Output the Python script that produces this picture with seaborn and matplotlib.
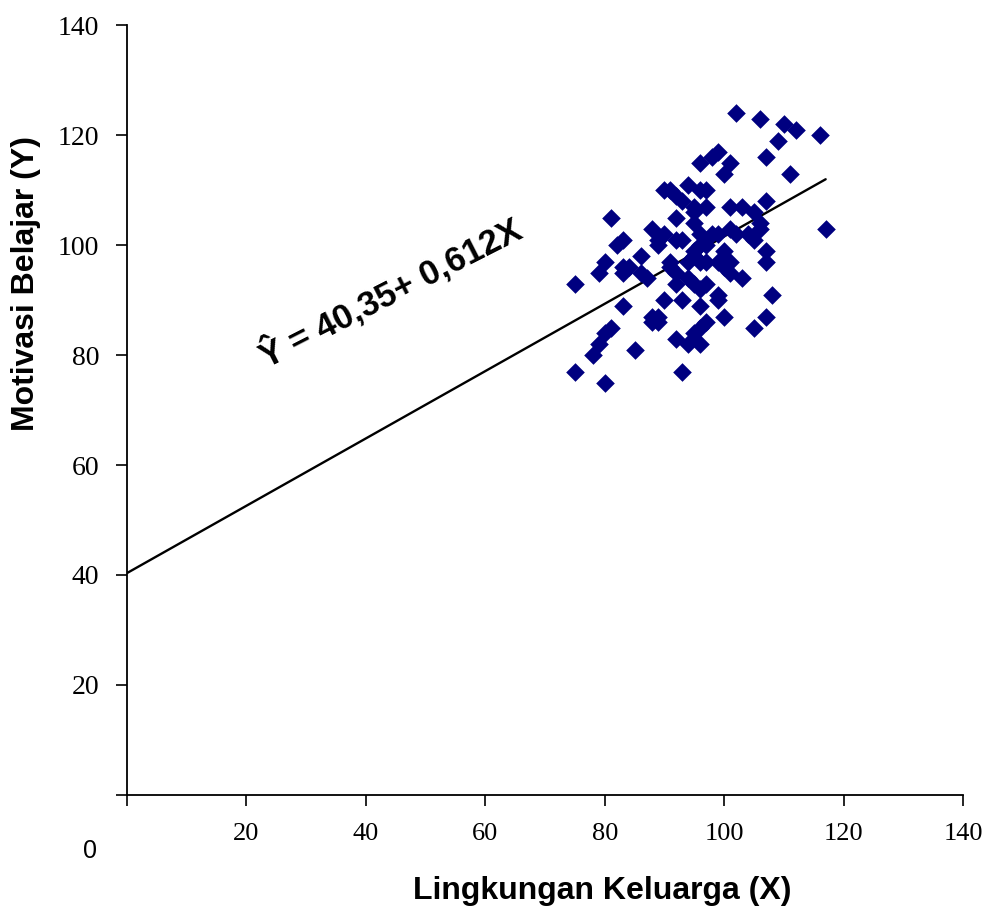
import matplotlib
matplotlib.use("Agg")
import matplotlib.pyplot as plt
import numpy as np
import pandas as pd
import seaborn as sns

# ---- data ----
x_vals = [75, 75, 78, 79, 79, 80, 80, 80, 81, 81, 82, 83, 83, 83, 83, 84, 85, 86, 86, 87,
          88, 89, 89, 88, 89, 89, 88, 90, 91, 92, 93, 90, 90, 92, 92, 93, 92, 93, 93, 94,
          95, 95, 97, 96, 96, 97, 98, 99, 100, 101, 102, 96, 98, 96, 97, 95, 95, 100, 91, 94,
          97, 99, 92, 94, 95, 96, 97, 99, 99, 96, 100, 97, 96, 95, 94, 96, 101, 103, 105, 106,
          106, 101, 102, 104, 105, 101, 101, 103, 100, 105, 106, 107, 107, 107, 107, 107, 108, 109, 110, 112,
          111, 116, 117, 95, 91, 92, 96, 99]
y_vals = [93, 77, 80, 82, 95, 97, 75, 84, 85, 105, 100, 101, 89, 95, 96, 96, 81, 98, 95, 94,
          103, 101, 100, 87, 86, 87, 86, 110, 110, 109, 108, 102, 90, 105, 101, 101, 83, 77, 90, 111,
          106, 107, 107, 115, 110, 110, 116, 117, 113, 115, 124, 102, 102, 100, 100, 99, 98, 99, 97, 97,
          97, 97, 93, 94, 93, 92, 93, 91, 90, 89, 87, 86, 85, 84, 82, 82, 107, 107, 106, 104,
          103, 103, 102, 102, 101, 97, 95, 94, 96, 85, 123, 116, 108, 99, 97, 87, 91, 119, 122, 121,
          113, 120, 103, 104, 96, 95, 97, 102]

intercept = 40.35
slope = 0.612
line_x = [0, 117]

x_ticks = [0, 20, 40, 60, 80, 100, 120, 140]
y_ticks = [0, 20, 40, 60, 80, 100, 120, 140]
x_ticklabels = ["", "20", "40", "60", "80", "100", "120", "140"]
y_ticklabels = ["", "20", "40", "60", "80", "100", "120", "140"]

x_label = "Lingkungan Keluarga (X)"
y_label = "Motivasi Belajar (Y)"
equation = "\u0176 = 40,35+ 0,612X"

# ---- fonts ----
sans = "Liberation Sans"
serif = "Liberation Serif"

sns.set_theme(style="white")
plt.rcParams["font.family"] = ["Liberation Sans", "DejaVu Sans"]

df = pd.DataFrame({"x": x_vals, "y": y_vals})
line_df = pd.DataFrame({"x": line_x, "y": [intercept + slope * v for v in line_x]})

fig = plt.figure(figsize=(9.93, 9.17), dpi=100)
ax = fig.add_axes([127 / 993, 1 - 795 / 917, (963 - 127) / 993, (795 - 25) / 917])

sns.lineplot(data=line_df, x="x", y="y", ax=ax, color="black", linewidth=1.7)
sns.scatterplot(data=df, x="x", y="y", ax=ax, marker="D", color="#000080",
                s=90, linewidth=0, alpha=1.0, zorder=3)

ax.set_xlim(0, 140)
ax.set_ylim(0, 140)
ax.set_xticks(x_ticks)
ax.set_yticks(y_ticks)
ax.set_xticklabels(x_ticklabels, fontfamily=serif, fontsize=19, color="black")
ax.set_yticklabels(y_ticklabels, fontfamily=serif, fontsize=20, color="black")
ax.tick_params(axis="both", direction="out", length=8, width=1.2, color="black",
               bottom=True, left=True)
ax.tick_params(axis="x", pad=12)
ax.tick_params(axis="y", pad=12)

for side in ["top", "right"]:
    ax.spines[side].set_visible(False)
for side in ["left", "bottom"]:
    ax.spines[side].set_color("black")
    ax.spines[side].set_linewidth(1.3)

ax.set_xlabel(x_label, fontfamily=sans, fontweight="bold", fontsize=23, color="black")
ax.set_ylabel(y_label, fontfamily=sans, fontweight="bold", fontsize=23, color="black")
ax.xaxis.set_label_coords((602 - 127) / 836, (795 - 876) / 770)
ax.yaxis.set_label_coords((41 - 127) / 836, (795 - 283) / 770)

ax.text(44, 91.5, equation, rotation=27, rotation_mode="anchor", ha="center", va="center",
        fontfamily=sans, fontweight="bold", fontsize=25, color="black")

fig.text(90 / 993, 1 - 851 / 917, "0", ha="center", va="center",
         fontfamily=sans, fontsize=18, color="black")

fig.savefig("out.png", dpi=100, facecolor="white")
